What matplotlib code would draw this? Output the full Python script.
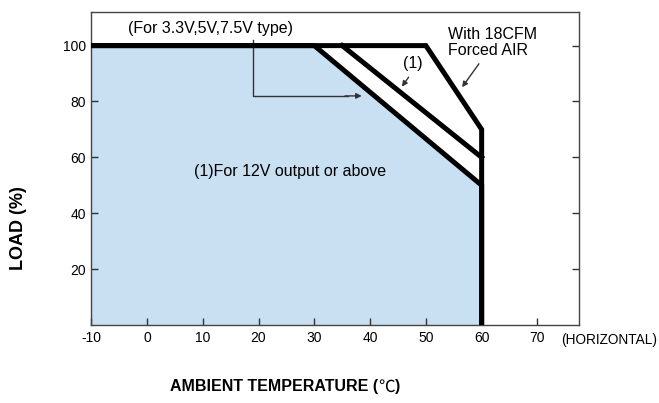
import matplotlib.pyplot as plt

plt.rcParams['font.family'] = ['Liberation Sans Narrow', 'Liberation Sans', 'DejaVu Sans', 'Noto Sans CJK SC']
plt.rcParams['axes.unicode_minus'] = False

# derating curves (ambient temp in C, load in %)
temp_std = [-10, 30, 60, 60]
load_std = [100, 100, 50, 0]          # 3.3V, 5V, 7.5V type
temp_12v = [35, 60]
load_12v = [100, 60]                  # (1) 12V output or above
temp_air = [-10, 50, 60, 60]
load_air = [100, 100, 70, 0]          # with 18CFM forced air

x_ticks = [-10, 0, 10, 20, 30, 40, 50, 60, 70]
y_ticks = [20, 40, 60, 80, 100]

fig = plt.figure(figsize=(6.59, 4.03), dpi=100)
ax = fig.add_axes([0.1384, 0.1935, 0.879 - 0.1384, 0.970 - 0.1935])

ax.fill_between(temp_std, load_std, 0, color='#c9dff2', zorder=1)
ax.plot(temp_air, load_air, color='black', lw=3.6, solid_joinstyle='miter', zorder=3)
ax.plot(temp_std, load_std, color='black', lw=3.6, solid_joinstyle='miter', zorder=3)
ax.plot(temp_12v, load_12v, color='black', lw=3.6, solid_joinstyle='miter', zorder=3)

ax.set_xlim(-10, 77.5)
ax.set_ylim(0, 112)
ax.set_xticks(x_ticks)
ax.set_yticks(y_ticks)
ax.tick_params(direction='in', length=5, width=1, color='#333333', labelsize=10, pad=4)
ax.tick_params(axis='y', right=True)
for s in ax.spines.values():
    s.set_color('#444444')
    s.set_linewidth(1)

# annotations
ax.text(11.3, 106, '(For 3.3V,5V,7.5V type)', ha='center', va='center', fontsize=11.5)
ax.plot([19, 19, 36], [102, 82, 82], color='#333333', lw=1, zorder=2)
ax.annotate('', xy=(39, 82), xytext=(35, 82),
            arrowprops=dict(arrowstyle='-|>', color='#333333', lw=1, mutation_scale=8))

ax.text(47.7, 93.5, '(1)', ha='center', va='center', fontsize=11.5)
ax.annotate('', xy=(45.4, 84.5), xytext=(47.2, 89.5),
            arrowprops=dict(arrowstyle='-|>', color='#333333', lw=1, mutation_scale=8))

ax.text(54, 101, 'With 18CFM\nForced AIR', ha='left', va='center', fontsize=11.5, linespacing=1.1)
ax.annotate('', xy=(56.2, 84.3), xytext=(59.8, 94.3),
            arrowprops=dict(arrowstyle='-|>', color='#333333', lw=1, mutation_scale=8))

ax.text(25.7, 55, '(1)For 12V output or above', ha='center', va='center', fontsize=11.5)

ax.text(74.3, -5.5, '(HORIZONTAL)', ha='left', va='center', fontsize=9.8, clip_on=False)

fig.text(0.028, 0.435, 'LOAD (%)', rotation=90, ha='center', va='center',
         fontsize=13, fontweight='bold')

# x label, with the degree sign in a lighter CJK face
t1 = fig.text(0.258, 0.04, 'AMBIENT TEMPERATURE (', ha='left', va='center',
              fontsize=11.5, fontweight='bold')
t2 = ax.annotate('℃', xy=(1, 0.5), xycoords=t1, ha='left', va='center',
                 fontsize=12, family='Noto Sans CJK SC', annotation_clip=False)
ax.annotate(')', xy=(1, 0.5), xycoords=t2, ha='left', va='center',
            fontsize=11.5, fontweight='bold', annotation_clip=False)

fig.savefig('out.png', dpi=100)
